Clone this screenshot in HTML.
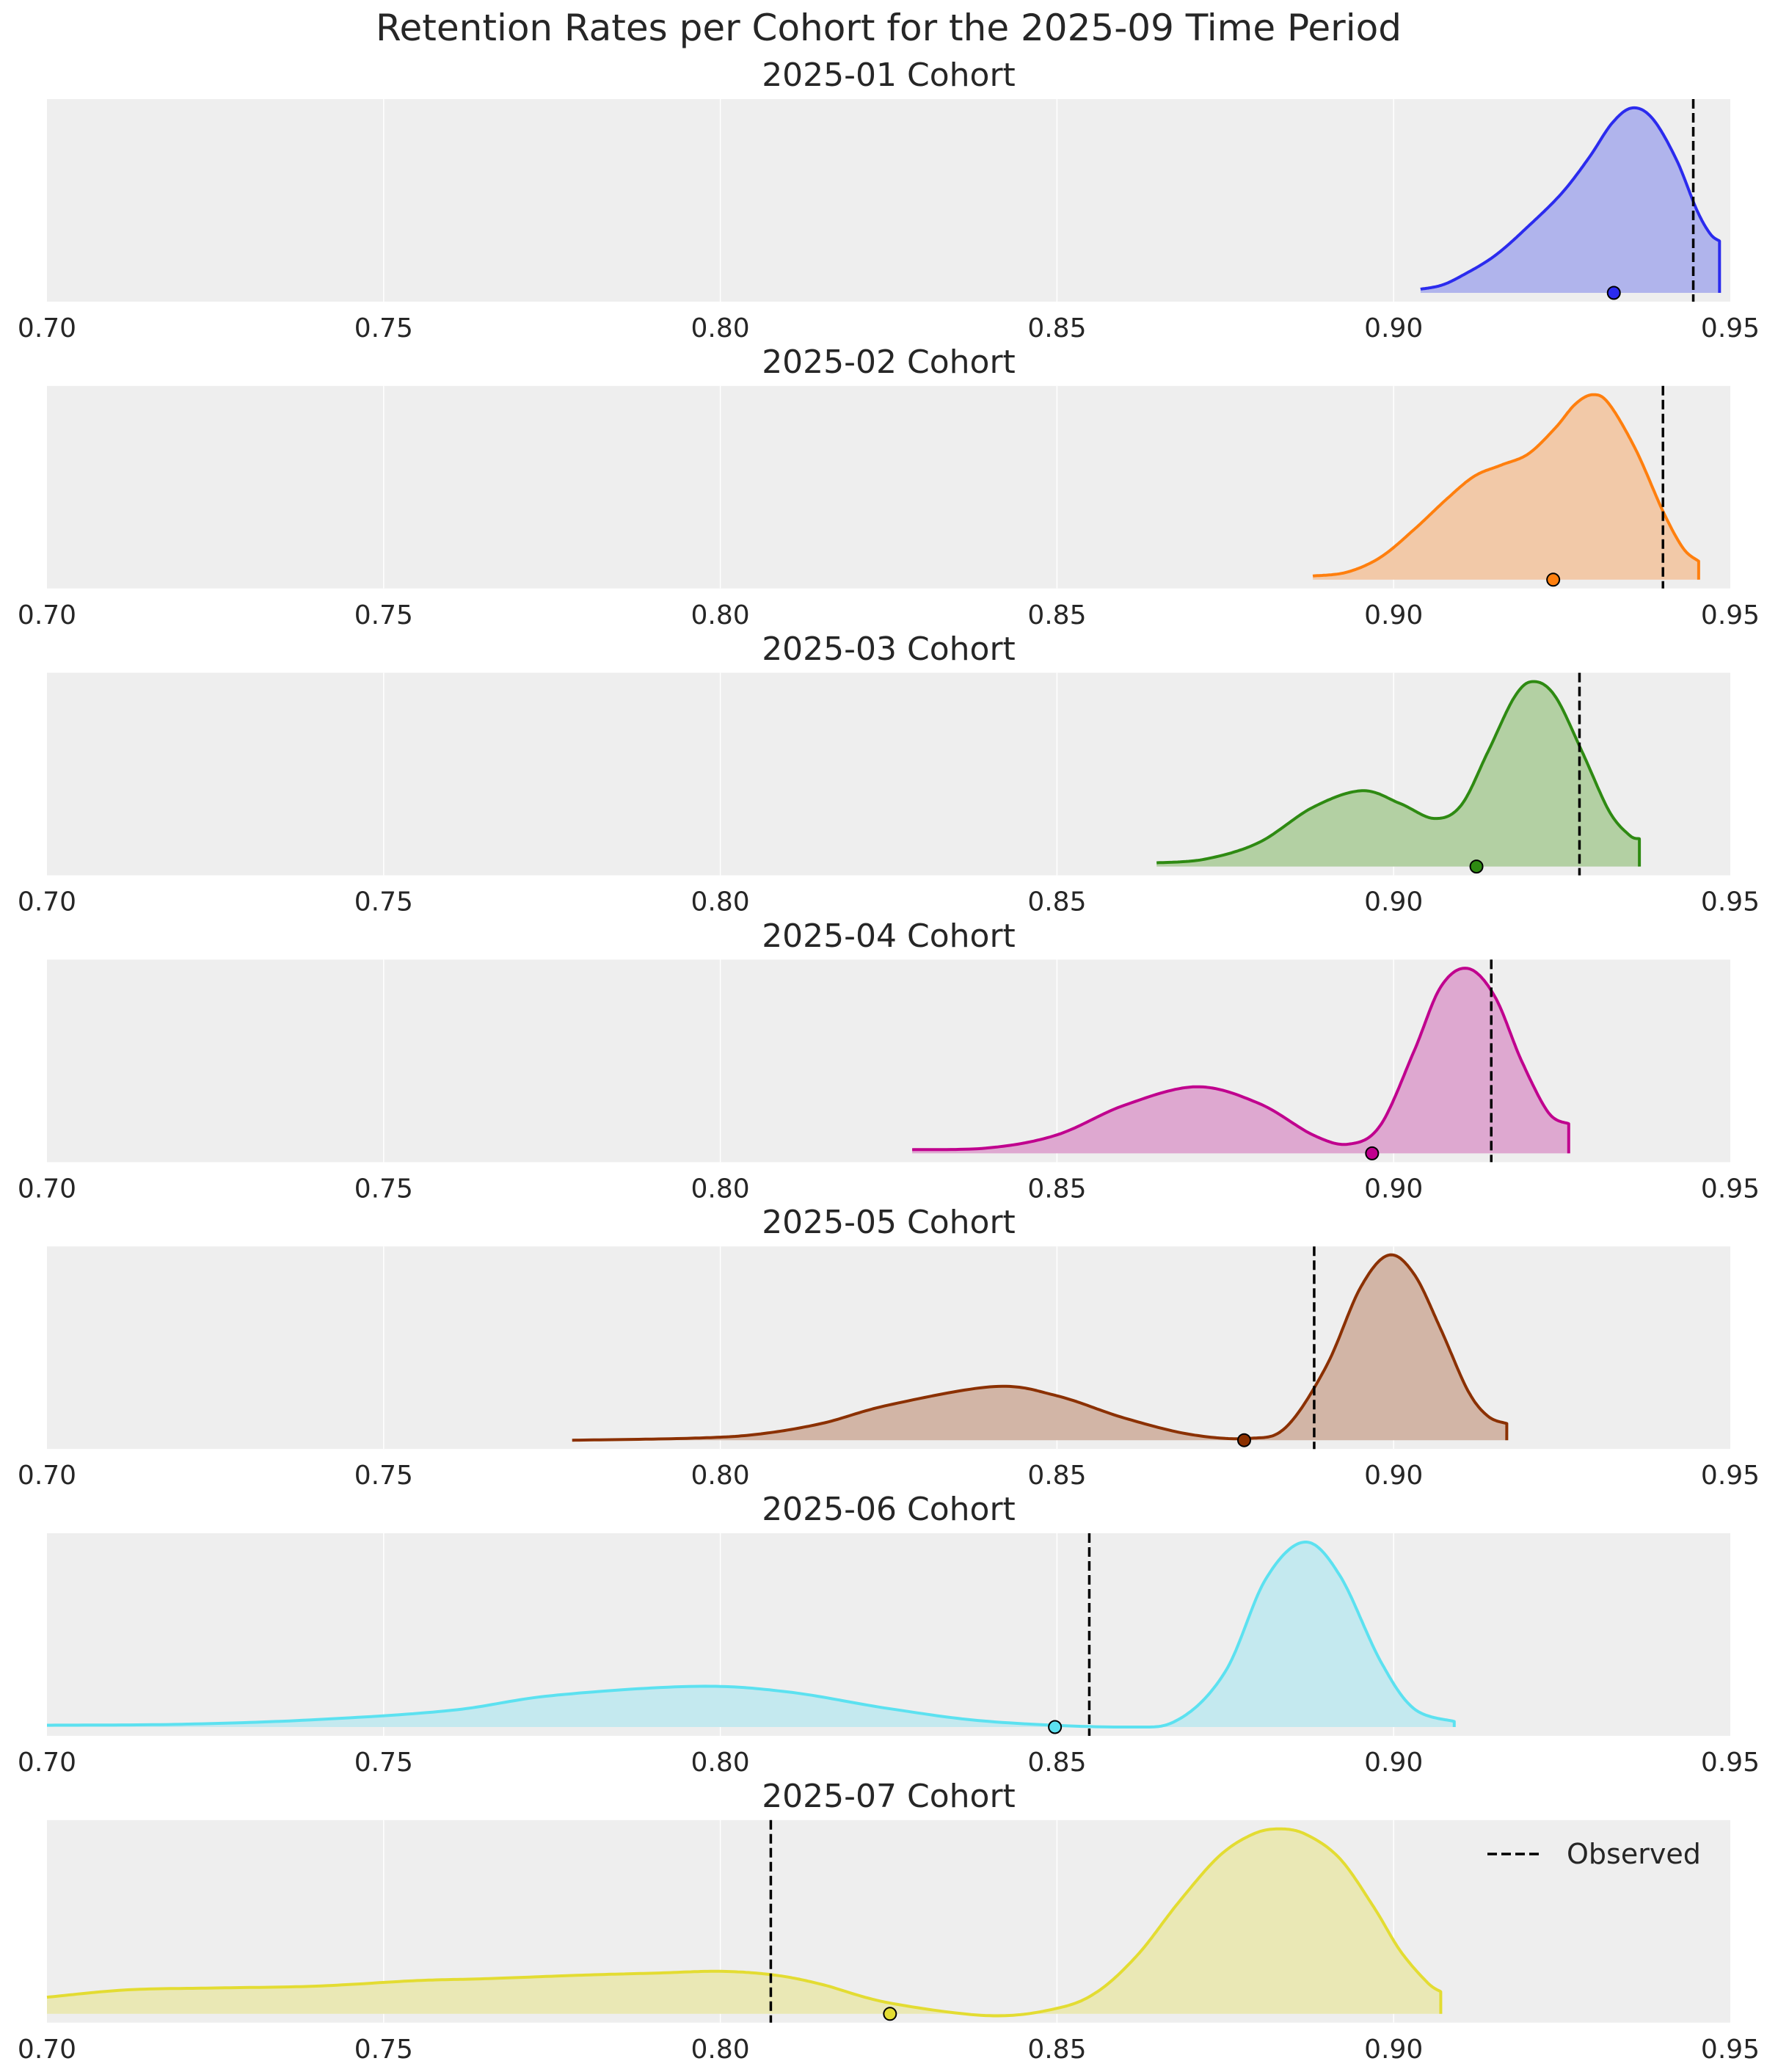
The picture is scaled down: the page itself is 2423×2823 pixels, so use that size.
<!DOCTYPE html>
<html><head><meta charset="utf-8"><style>
html,body{margin:0;padding:0;background:#fff;}
svg{display:block;font-family:"DejaVu Sans","Liberation Sans",sans-serif;}
</style></head><body>
<svg id="s" width="2423" height="2823" viewBox="0 0 2423 2823" xmlns="http://www.w3.org/2000/svg">
<text x="1211" y="55" font-size="50" text-anchor="middle" fill="#262626">Retention Rates per Cohort for the 2025-09 Time Period</text>
<g id="panels"></g>
<g font-size="44" text-anchor="middle" fill="#262626">
<text x="1211" y="117">2025-01 Cohort</text>
<text x="1211" y="508">2025-02 Cohort</text>
<text x="1211" y="899">2025-03 Cohort</text>
<text x="1211" y="1290">2025-04 Cohort</text>
<text x="1211" y="1680">2025-05 Cohort</text>
<text x="1211" y="2071">2025-06 Cohort</text>
<text x="1211" y="2462">2025-07 Cohort</text>
</g>
<g id="ticks" font-size="36" text-anchor="middle" fill="#262626"></g>
<line x1="2027" y1="2526" x2="2100" y2="2526" stroke="#000" stroke-width="3.5" stroke-dasharray="13,6"/>
<text x="2135" y="2539" font-size="38" fill="#262626">Observed</text>
</svg>
<script>
const L=64,R=2358,H=276,SP=390.8,T0=135;
const X=v=>L+(v-0.7)/0.25*(R-L);
const labels=["0.70","0.75","0.80","0.85","0.90","0.95"];
const P=[
 {c:"#2b2bee",f:"#b0b4ec",obs:0.9445,dot:0.9327,pts:[[0.904,0.02],[0.907,0.04],[0.910,0.09],[0.915,0.2],[0.920,0.36],[0.925,0.54],[0.929,0.73],[0.9325,0.92],[0.9355,1],[0.9385,0.94],[0.942,0.72],[0.945,0.45],[0.947,0.32],[0.9484,0.28]]},
 {c:"#ff7f0e",f:"#f2c9a8",obs:0.940,dot:0.9237,pts:[[0.888,0.02],[0.893,0.04],[0.898,0.12],[0.903,0.27],[0.908,0.44],[0.912,0.56],[0.916,0.62],[0.920,0.68],[0.924,0.82],[0.927,0.95],[0.9296,1],[0.932,0.95],[0.936,0.70],[0.940,0.37],[0.943,0.17],[0.9453,0.1]]},
 {c:"#2e8a12",f:"#b3d0a3",obs:0.9276,dot:0.9123,pts:[[0.8648,0.02],[0.872,0.04],[0.880,0.13],[0.888,0.32],[0.8953,0.41],[0.901,0.34],[0.906,0.26],[0.910,0.33],[0.914,0.62],[0.918,0.92],[0.9208,1],[0.924,0.92],[0.928,0.62],[0.932,0.3],[0.935,0.17],[0.9365,0.15]]},
 {c:"#c0008e",f:"#dea8d0",obs:0.9145,dot:0.8968,pts:[[0.8285,0.02],[0.840,0.03],[0.850,0.1],[0.860,0.26],[0.8707,0.36],[0.880,0.27],[0.888,0.1],[0.8933,0.05],[0.898,0.15],[0.903,0.55],[0.907,0.9],[0.911,1],[0.915,0.85],[0.919,0.5],[0.923,0.22],[0.926,0.16]]},
 {c:"#8b3000",f:"#d2b5a6",obs:0.8882,dot:0.8778,pts:[[0.778,0.0],[0.795,0.01],[0.805,0.03],[0.815,0.09],[0.825,0.19],[0.8407,0.29],[0.850,0.24],[0.860,0.12],[0.870,0.03],[0.8786,0.01],[0.884,0.07],[0.890,0.4],[0.895,0.82],[0.8992,1],[0.903,0.9],[0.907,0.6],[0.911,0.27],[0.914,0.13],[0.9168,0.09]]},
 {c:"#5ce1f0",f:"#c4e9ef",obs:0.8548,dot:0.8497,pts:[[0.700,0.01],[0.720,0.015],[0.740,0.04],[0.760,0.09],[0.775,0.17],[0.7961,0.22],[0.810,0.19],[0.825,0.1],[0.840,0.03],[0.860,0.0],[0.868,0.04],[0.875,0.3],[0.881,0.8],[0.8868,1],[0.892,0.82],[0.898,0.36],[0.903,0.1],[0.909,0.03]]},
 {c:"#e3dc32",f:"#eae8b5",obs:0.8075,dot:0.8252,pts:[[0.700,0.09],[0.712,0.13],[0.725,0.14],[0.740,0.15],[0.755,0.18],[0.765,0.19],[0.780,0.21],[0.790,0.22],[0.800,0.23],[0.808,0.21],[0.815,0.16],[0.825,0.06],[0.84,-0.01],[0.850,0.03],[0.856,0.12],[0.862,0.32],[0.868,0.6],[0.874,0.85],[0.879,0.97],[0.883,1],[0.887,0.97],[0.892,0.84],[0.897,0.58],[0.901,0.34],[0.905,0.17],[0.907,0.12]]}
];
function spline(pts,toXY){
 const q=pts.map(toXY);let out=[];
 for(let i=0;i<q.length-1;i++){
  const p0=q[Math.max(i-1,0)],p1=q[i],p2=q[i+1],p3=q[Math.min(i+2,q.length-1)];
  for(let t=0;t<1;t+=0.05){
   const t2=t*t,t3=t2*t;
   const f=(a,b,c,d)=>0.5*((2*b)+(-a+c)*t+(2*a-5*b+4*c-d)*t2+(-a+3*b-3*c+d)*t3);
   out.push([f(p0[0],p1[0],p2[0],p3[0]),f(p0[1],p1[1],p2[1],p3[1])]);
  }
 }
 out.push(q[q.length-1]);return out;
}
let g="",tk="";
P.forEach((p,i)=>{
 const top=T0+i*SP,bot=top+H,base=bot-12,pk=top+12,h=base-pk;
 g+=`<rect x="${L}" y="${top}" width="${R-L}" height="${H}" fill="#eeeeee"/>`;
 for(let k=1;k<5;k++){const x=L+k*(R-L)/5;g+=`<line x1="${x}" y1="${top}" x2="${x}" y2="${bot}" stroke="#fff" stroke-width="1.5"/>`;}
 const s=spline(p.pts,a=>[X(a[0]),base-a[1]*h]);
 const d=s.map((a,j)=>(j?"L":"M")+a[0].toFixed(1)+","+a[1].toFixed(1)).join("");
 const x0=s[0][0],x1=s[s.length-1][0];
 g+=`<path d="${d}L${x1},${base}L${x0},${base}Z" fill="${p.f}"/>`;
 g+=`<path d="${d}L${x1},${base}" fill="none" stroke="${p.c}" stroke-width="4" stroke-linejoin="round"/>`;
 g+=`<line x1="${X(p.obs)}" y1="${top}" x2="${X(p.obs)}" y2="${bot}" stroke="#000" stroke-width="3.5" stroke-dasharray="13,6"/>`;
 g+=`<circle cx="${X(p.dot)}" cy="${base}" r="8.5" fill="${p.c}" stroke="#000" stroke-width="2"/>`;
 labels.forEach((l,k)=>{tk+=`<text x="${L+k*(R-L)/5}" y="${bot+48}">${l}</text>`;});
});
document.getElementById("panels").innerHTML=g;
document.getElementById("ticks").innerHTML=tk;
</script>
</body></html>
